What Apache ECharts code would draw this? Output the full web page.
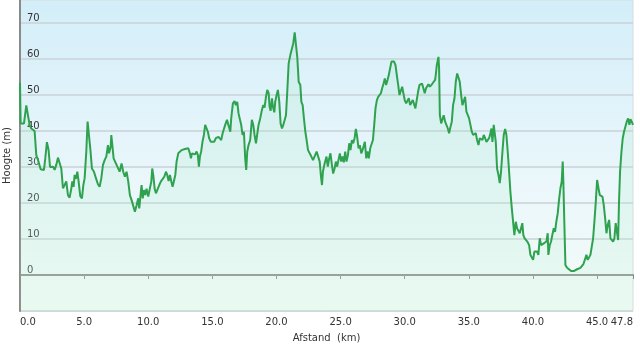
<!DOCTYPE html>
<html><head><meta charset="utf-8">
<script src="https://cdn.jsdelivr.net/npm/echarts@6/dist/echarts.min.js"></script>
<style>html,body{margin:0;padding:0;background:#fff}#c{width:640px;height:348px}</style>
</head><body><div id="c"></div>
<script>
const xTitle = 'Afstand  (km)';
const yTitle = 'Hoogte (m)';
const distanceKm = [0,0.05,0.31,0.49,0.6,0.75,0.88,1.0,1.14,1.27,1.4,1.61,1.87,1.97,2.1,2.23,2.34,2.45,2.58,2.7,2.83,2.96,3.09,3.22,3.35,3.48,3.61,3.74,3.87,4.0,4.08,4.18,4.26,4.36,4.47,4.57,4.7,4.83,4.94,5.04,5.17,5.27,5.38,5.48,5.61,5.77,5.92,6.08,6.21,6.34,6.47,6.6,6.73,6.86,6.94,7.07,7.12,7.2,7.3,7.43,7.53,7.64,7.77,7.92,8.05,8.18,8.31,8.44,8.57,8.7,8.83,8.96,9.09,9.22,9.3,9.4,9.48,9.57,9.67,9.77,9.87,10.0,10.13,10.24,10.31,10.39,10.5,10.6,10.7,10.86,10.99,11.12,11.25,11.38,11.48,11.59,11.69,11.8,11.9,12.0,12.11,12.21,12.34,12.47,12.6,12.73,12.86,12.99,13.12,13.25,13.33,13.41,13.51,13.64,13.77,13.87,13.95,14.03,14.13,14.23,14.34,14.44,14.55,14.65,14.75,14.88,15.01,15.14,15.27,15.38,15.48,15.59,15.69,15.8,15.87,16.0,16.14,16.27,16.4,16.47,16.6,16.73,16.83,16.94,17.04,17.15,17.25,17.35,17.46,17.56,17.64,17.72,17.82,17.95,18.08,18.19,18.29,18.4,18.5,18.6,18.73,18.86,18.97,19.07,19.18,19.28,19.39,19.46,19.54,19.65,19.72,19.83,19.9,20.01,20.11,20.22,20.32,20.43,20.53,20.64,20.74,20.84,20.95,21.08,21.21,21.31,21.42,21.52,21.62,21.73,21.86,21.94,22.04,22.14,22.25,22.35,22.46,22.59,22.72,22.85,22.98,23.13,23.26,23.37,23.47,23.55,23.62,23.73,23.8,23.9,24.0,24.11,24.21,24.32,24.42,24.53,24.63,24.73,24.84,24.94,25.05,25.15,25.25,25.36,25.46,25.57,25.67,25.77,25.88,25.98,26.09,26.19,26.29,26.4,26.5,26.61,26.71,26.81,26.89,27.0,27.1,27.2,27.31,27.41,27.52,27.62,27.72,27.83,27.93,28.03,28.14,28.24,28.35,28.45,28.55,28.66,28.76,28.86,28.97,29.07,29.17,29.28,29.38,29.49,29.59,29.69,29.8,29.9,30.0,30.11,30.21,30.32,30.42,30.52,30.63,30.73,30.83,30.94,31.04,31.15,31.25,31.35,31.46,31.56,31.66,31.75,31.85,31.96,32.06,32.16,32.27,32.37,32.42,32.5,32.58,32.63,32.68,32.74,32.84,32.94,33.04,33.15,33.25,33.36,33.46,33.57,33.67,33.77,33.88,33.98,34.09,34.19,34.29,34.4,34.5,34.61,34.71,34.81,34.92,35.02,35.13,35.23,35.33,35.44,35.54,35.64,35.75,35.85,35.96,36.06,36.16,36.27,36.37,36.48,36.58,36.68,36.76,36.84,36.94,37.02,37.1,37.2,37.31,37.41,37.51,37.62,37.72,37.83,37.93,38.03,38.14,38.24,38.35,38.45,38.55,38.66,38.76,38.86,38.97,39.07,39.17,39.25,39.35,39.46,39.56,39.7,39.8,39.91,40.01,40.11,40.22,40.32,40.42,40.53,40.63,40.74,40.84,40.94,41.05,41.15,41.2,41.31,41.41,41.51,41.62,41.72,41.82,41.93,42.03,42.14,42.24,42.32,42.37,42.45,42.53,42.66,42.81,42.97,43.07,43.18,43.28,43.44,43.59,43.7,43.83,43.93,44.06,44.17,44.27,44.38,44.48,44.58,44.69,44.79,44.9,45.0,45.11,45.21,45.32,45.42,45.52,45.63,45.73,45.83,45.94,46.04,46.14,46.25,46.35,46.45,46.56,46.64,46.71,46.79,46.9,47.0,47.1,47.21,47.31,47.42,47.52,47.6,47.7,47.8];
const elevationM = [53.4,42.1,42.1,47.1,46.8,41.7,40.7,41.2,40.0,33.3,32.0,29.4,29.2,32.4,36.9,34.7,30.0,29.6,30.1,29.2,30.6,32.6,32.9,29.6,24.1,25.0,26.0,22.2,21.5,24.0,26.0,24.5,27.8,26.7,28.7,26.0,21.9,21.3,25.0,26.9,34.3,42.6,43.0,35.2,29.6,28.7,26.9,25.2,24.5,26.9,30.6,31.9,32.9,36.1,33.8,35.6,38.9,36.1,32.4,32.9,30.6,30.1,28.7,31.0,28.7,27.3,28.7,26.0,22.2,20.8,20.6,17.6,19.4,21.3,18.5,22.2,25.0,21.3,23.6,22.2,24.0,21.8,22.2,26.0,29.6,27.8,24.0,22.7,22.7,25.0,26.0,26.4,27.3,28.7,27.8,26.1,27.8,26.0,24.5,24.3,27.8,31.5,33.8,34.3,34.7,34.3,35.0,35.4,35.2,33.8,32.4,33.8,33.3,33.5,34.3,33.3,30.1,32.9,34.4,37.0,38.9,41.7,41.2,39.8,38.0,37.0,36.6,37.0,38.0,38.1,38.4,38.9,37.5,39.4,40.2,41.7,43.1,42.6,39.8,43.5,47.7,48.3,47.2,48.1,44.9,45.4,41.7,38.9,39.8,32.4,29.2,34.3,36.1,37.5,43.1,41.7,38.9,36.6,37.0,41.7,43.5,45.8,47.2,46.5,49.5,51.4,50.5,46.8,45.6,49.1,46.8,45.2,48.1,50.0,51.4,48.1,42.1,40.7,41.7,41.2,44.4,50.9,58.8,61.1,61.6,64.4,67.4,63.9,60.6,53.7,52.8,48.1,47.2,43.5,39.8,37.5,34.7,34.3,32.9,31.9,31.5,34.3,34.3,31.5,27.3,25.0,28.7,30.6,30.6,32.9,30.1,32.4,33.8,30.6,28.2,29.6,31.5,30.1,30.6,33.8,31.5,32.9,31.3,34.3,31.5,33.3,36.6,34.7,37.5,36.6,38.0,40.6,38.4,35.2,36.1,33.8,34.7,34.3,37.0,32.4,34.3,32.4,35.2,35.6,37.5,41.7,46.3,48.6,49.5,49.1,50.5,51.9,53.2,54.6,52.8,54.2,55.6,57.4,59.3,59.7,59.3,58.3,55.6,52.8,50.0,50.5,52.3,52.8,48.6,47.7,48.1,49.1,47.2,47.7,48.6,48.1,46.3,46.8,50.9,52.8,52.3,53.2,52.8,50.5,51.9,52.3,53.0,52.3,52.8,53.2,53.7,54.2,55.6,58.3,59.7,60.6,57.4,44.4,42.1,41.7,44.4,42.6,42.6,40.7,39.4,41.2,42.6,47.2,49.1,53.7,56.0,56.0,53.7,50.0,47.2,47.7,49.5,45.4,44.4,43.5,44.0,39.8,38.9,38.4,39.4,37.5,36.1,38.0,38.4,37.5,38.9,38.0,37.0,36.6,38.0,39.4,40.7,37.0,41.7,42.1,37.0,29.6,27.8,25.5,28.7,34.3,38.9,40.6,38.9,34.3,28.7,23.1,18.5,14.8,11.1,14.8,13.0,12.5,11.6,12.0,14.4,11.1,10.2,9.7,9.3,8.3,5.6,5.6,4.2,6.5,6.0,6.5,5.6,10.2,8.3,8.8,8.8,8.5,9.3,11.6,5.6,8.3,9.3,11.1,13.0,12.0,14.8,17.1,20.8,24.1,25.9,31.5,25.9,13.9,2.8,2.0,1.6,1.1,0.7,1.1,1.6,1.6,1.6,2.0,2.0,3.0,3.0,5.6,4.2,4.2,5.6,6.0,10.2,14.8,20.4,26.4,24.1,22.2,22.0,21.8,19.4,15.7,11.6,13.9,15.3,10.2,9.7,9.3,10.2,14.4,13.9,9.7,20.4,28.7,34.3,38.0,39.8,40.2,42.6,43.5,41.7,43.3,42.6,41.7];
const yTicks = [0,10,20,30,40,50,60,70];
const xTicks = [0,5,10,15,20,25,30,35,40,45,47.8];

const points = distanceKm.map((d, i) => [d, elevationM[i]]);
const chart = echarts.init(document.getElementById('c'), null, {renderer: 'canvas'});
const font = 'DejaVu Sans, Verdana, sans-serif';
chart.setOption({
  animation: false,
  grid: {
    left: 20, right: 7, top: 0, bottom: 37, show: true,
    outerBoundsMode: 'none', containLabel: false,
    borderColor: '#d6dcdf', borderWidth: 1,
    backgroundColor: new echarts.graphic.LinearGradient(0, 0, 0, 1, [
      {offset: 0, color: '#d3eef9'},
      {offset: 0.6, color: '#ebf7fb'},
      {offset: 1, color: '#f3fbf7'}
    ])
  },
  xAxis: {
    type: 'value', min: 0, max: 47.8, interval: 5,
    name: xTitle, nameLocation: 'middle', nameGap: 22,
    nameTextStyle: {fontFamily: font, fontSize: 10, color: '#333'},
    axisLine: {show: true, lineStyle: {color: '#8a8a8a', width: 2}},
    axisTick: {show: true, length: 4, lineStyle: {color: '#8a8a8a'}},
    axisLabel: {fontFamily: font, fontSize: 10, color: '#333', margin: 6,
      alignMinLabel: 'left', alignMaxLabel: 'right',
      formatter: v => xTicks.includes(+v.toFixed(1)) ? v.toFixed(1) : ''},
    splitLine: {show: false}
  },
  yAxis: {
    type: 'value', min: -10, max: 76.4, interval: 10,
    name: yTitle, nameLocation: 'middle', nameGap: 2,
    nameTextStyle: {fontFamily: font, fontSize: 10, color: '#333', padding: [8, 0, 0, 0]},
    axisLine: {show: true, lineStyle: {color: '#8a8a8a', width: 2}},
    axisTick: {show: false},
    axisLabel: {inside: true, margin: 7, verticalAlign: 'bottom', fontFamily: font, fontSize: 10, color: '#333',
      showMaxLabel: false, showMinLabel: false,
      formatter: v => yTicks.includes(v) ? String(v) : ''},
    splitLine: {show: true, showMaxLine: false, lineStyle: {color: '#c9d2d6', width: 1.5}}
  },
  series: [{
    type: 'line', data: points, symbol: 'none', smooth: false,
    lineStyle: {color: '#2ea24f', width: 2},
    areaStyle: {origin: 'start', color: new echarts.graphic.LinearGradient(0, 0, 0, 1, [
      {offset: 0, color: 'rgba(150,225,185,0.25)'},
      {offset: 1, color: 'rgba(200,245,220,0.35)'}
    ])}
  }]
});
</script></body></html>
